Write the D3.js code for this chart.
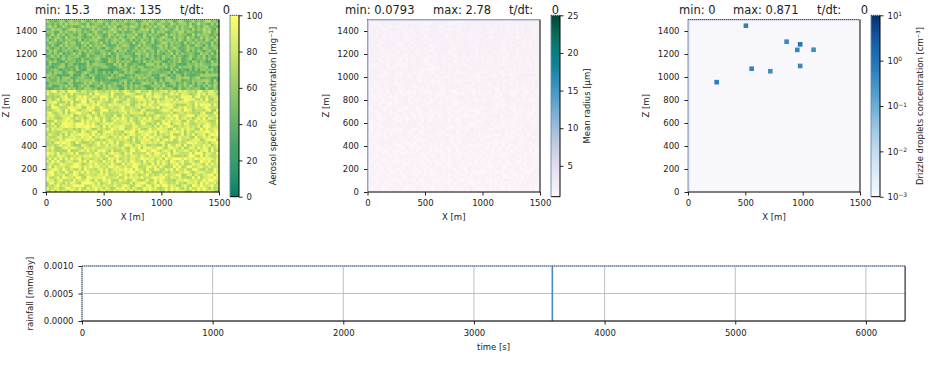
<!DOCTYPE html>
<html lang="en">
<head>
<meta charset="utf-8">
<title>Aerosol / radius / drizzle snapshot</title>
<script src="https://cdn.jsdelivr.net/npm/d3@7"></script>
<style>
  body { margin: 0; background: #fff; }
  svg text { font-family: "DejaVu Sans", sans-serif; fill: #222; }
</style>
</head>
<body>
<script>
// ---- data ----
var domainX = [0, 1500], domainZ = [0, 1500];
var nCells = 64;

// layer means, 100 m layers from the ground up
var aerosolLayers = [83, 84, 83, 83, 82, 82, 81, 81, 80, 50, 47, 49, 51, 53, 55];   // mg-1
var radiusLayers  = [1.6, 1.6, 1.6, 1.6, 1.7, 1.7, 1.7, 1.7, 1.7, 1.8, 1.8, 1.8, 1.9, 1.9, 1.9]; // um

// cell to cell scatter, one digit per cell (rows from the ground up)
var scatter = [
"5281736409458172639058142736491805728193460192837564019283746510",
"8136502794617208359461730285946173028594610372859406172385940612",
"1415926535897932384626433832795028841971693993751058209749445923",
"0781640628620899862803482534211706798214808651328230664709384460",
"9550582231725359408128481117450284102701938521105559644622948954",
"9303819644288109756659334461284756482337867831652712019091456485",
"6692346034861045432664821339360726024914127372458700660631558817",
"4881520920962829254091715364367892590360011330530548820466521384",
"1469519415116094330572703657595919530921861173819326117931051185",
"4807446237996274956735188575272489122793818301194912983367336244",
"0651285533896014739452638410826497615309172840569271038564192736",
"7183920465127380965218347096251873409265183740962581374029658137",
"2718281828459045235360287471352662497757247093699959574966967627",
"7240766303535475945713821785251664274274663919320030599218174135",
"9662904357290033429526059563073813232862794349076323382988075319",
"5251010190115738341879307021540891499348841675092447614606680822",
"6480016847741185374234544243710753907774499206955170276183860626",
"1331384583000752044933826560297606737113200709328709127443747047",
"2306969772093101416928368190255151086574637721112523897844250569",
"5363273897747268471040475346462080466842590694912933136770289891",
"5212671346743856916498512738497051629387456102983745610923847165",
"1732050807568877293527446341505872366942805253810380628055806979",
"4142135623730950488016887242096980785696718753769480731766797379",
"9074663144030568401625139648902384710293487560192384756019283476",
"2236067977499789696409173668731276235440618359611525724270897245",
"6180339887498948482045868343656381177203091798057628621354486227",
"3019346857201938456719203845671920385674102938456710923846751029",
"8462015793172604839517206483951720648391752064839157260483917526",
"5772156649015328606065120900824024310421593359399235988057672348",
"6931471805599453094172321214581765680755001343602552541206800094",
"3025850929940456840179914546843642076011014886287729760333279009",
"1098612288668109691395245236922525704647490557822749451734694333",
"6283185307179586476925286766559005768394338798750211641949889184",
"4669201609102990671853203820466201617258185577475768632745651343",
"2502907875095892822283902873218215786381271376727149977336192056",
"1202056903159594285399738161511449990764986292340498881792271555",
"8314462618153240809745619302187650243981765023948176502394817650",
"7389056098930650227230427460575007813180315570551847324087127822",
"2025372495815298746029387561092835476102938457610923845761092384",
"4810274937205839105728394610572839461027583940162738495061728394",
"0656643086021394946395224737190702179860943702770539217176293176",
"7523846748184676694051320005681271452635608277857713427577896091",
"7363717872146844090122495343014654958537105079227968925892354201",
"9956112129021960864034418159813629774771309960518707211349999998",
"3729780499510597317328160963185950244594553469083026425223082533",
"4468503526193118817101000313783875288658753320838142061717766914",
"7303598253490428755468731159562863882353787593751957781857780532",
"1712268066130019278766111959092164201989380952572010654858632788",
"3958201746613849027530186294758302619473885106274913508627401936",
"7216049385520731648920175384062917735048261930574812690354827016",
"0493817265584029136748205193677402815936042857193620485173906248",
"6627390415839027461158390274613208845927163054918273364019572806",
"1849205736027481953376204918570362849157093628417503916284057319",
"9305716284491627053820841697355028174962038571496023857140962385",
"5172093846620481937559302174886013927450268391745503821964071853",
"2864105937702958146390417628553190468237015982746309158274630915",
"8039261574318052769402715863941705283619048257361940852736194085",
"4715830926657203184950372618406691528307415962083751946028374619",
"0392847156218406937540196285736649018273540192863755019284763051",
"7560193842837164059218475930612283746509185720364981754032869147",
"2184750369956130482741059638271640385927116483059274408163957208",
"6937028415103849576226384910573895160472836904518273395061784240",
"3506182947784219036550917384620438175926087341952667180493520817",
"9241376058362950471883405716292671038495415827603973048162599361"
];

// drizzle cells: position [m] and concentration [cm-3]
var drizzleX    = [505, 860, 978, 953, 1095, 555, 718, 978, 250];
var drizzleZ    = [1446, 1307, 1284, 1236, 1237, 1072, 1050, 1096, 955];
var drizzleConc = [0.6, 0.45, 0.871, 0.5, 0.4, 0.55, 0.35, 0.5, 0.65];

var xTicks = [0, 500, 1000, 1500];
var zTicks = [0, 200, 400, 600, 800, 1000, 1200, 1400];
var aerosolTicks = [0, 20, 40, 60, 80, 100];
var radiusTicks = [5, 10, 15, 20, 25];
var drizzleTicks = [1e-3, 1e-2, 1e-1, 1, 10];

var titleMin = ["15.3", "0.0793", "0"];
var titleMax = ["135", "2.78", "0.871"];
var titleStep = "0";

var timeTicks = [0, 1000, 2000, 3000, 4000, 5000, 6000];
var rainTicks = [0, 0.0005, 0.001];
var timeMax = 6300, rainMax = 0.001;
var markTime = 3600;

// ---- layout ----
var W = 950, H = 374;
var plotTop = 19.5, plotBottom = 192;
var cbTop = 15.3, cbBottom = 196.7;
var panels = [
  {x0: 46,    x1: 219, cb: 230,   ylab: 6,   cblab: 273, tmin: 35,  tmax: 107, tdt: 180, tstep: 230},
  {x0: 367.5, x1: 540, cb: 551,   ylab: 326, cblab: 587, tmin: 345, tmax: 433, tdt: 509, tstep: 559},
  {x0: 688,   x1: 860, cb: 871,   ylab: 646, cblab: 920, tmin: 679, tmax: 733, tdt: 817, tstep: 868}
];
var cbWidth = 9;
var fs = 8.5;

var svg = d3.select("body").append("svg").attr("width", W).attr("height", H)
  .style("background", "#fff");

var summer = d3.interpolateRgb("rgb(0,128,102)", "rgb(255,255,102)");
var aerosolColor = d3.scaleSequential(summer).domain([0, 100]).clamp(true);
var radiusColor = d3.scaleSequential(d3.interpolatePuBuGn).domain([0.9, 25]).clamp(true);
var drizzleLog = d3.scaleLog().domain([1e-3, 10]).range([0, 1]).clamp(true);
function drizzleColor(v) { return v <= 1e-3 ? "#f8f7fb" : d3.interpolateBlues(drizzleLog(v)); }

var dd = (domainX[1] - domainX[0]) / nCells;
function layerOf(r) { return Math.min(14, Math.floor((r + 0.5) * dd / 100)); }
function digit(r, c) { var ch = scatter[r].charAt(c); return ch === "" ? 4.5 : +ch; }

function spines(g, x0, x1, y0, y1) {
  g.append("line").attr("x1", x0).attr("x2", x1).attr("y1", y1).attr("y2", y1).attr("stroke", "#000");
  g.append("line").attr("x1", x1).attr("x2", x1).attr("y1", y0).attr("y2", y1).attr("stroke", "#000");
  [["#3a4f77", 0], ["#8fb3de", 1]].forEach(function(s) {
    g.append("line").attr("x1", x0).attr("x2", x1).attr("y1", y0).attr("y2", y0)
      .attr("stroke", s[0]).attr("stroke-dasharray", "1,1").attr("stroke-dashoffset", s[1]);
    g.append("line").attr("x1", x0).attr("x2", x0).attr("y1", y0).attr("y2", y1)
      .attr("stroke", s[0]).attr("stroke-dasharray", "1,1").attr("stroke-dashoffset", s[1]);
  });
}

function styleAxis(a) {
  a.select(".domain").remove();
  a.selectAll(".tick line").attr("stroke", "#222");
  a.selectAll(".tick text").attr("font-size", fs).attr("font-family", "DejaVu Sans").attr("fill", "#222");
}

function colorbar(g, p, pos, color, ticks, fmt, label) {
  var n = 180, h = (cbBottom - cbTop) / n;
  var slices = d3.range(n).map(function(i) { return cbBottom - (i + 0.5) * h; });
  g.selectAll("rect.cb").data(slices).enter().append("rect")
    .attr("x", p.cb).attr("width", cbWidth)
    .attr("y", function(y) { return y - h / 2 - 0.3; }).attr("height", h + 0.6)
    .attr("fill", function(y) { return color(pos.invert(y)); });
  spines(g, p.cb, p.cb + cbWidth, cbTop, cbBottom);
  var ax = g.append("g").attr("transform", "translate(" + (p.cb + cbWidth) + ",0)")
    .call(d3.axisRight(pos).tickValues(ticks).tickSize(3.5).tickPadding(4).tickFormat(fmt));
  styleAxis(ax);
  g.append("text").attr("transform", "translate(" + p.cblab + "," + ((cbTop + cbBottom) / 2) + ") rotate(-90)")
    .attr("text-anchor", "middle").attr("dy", "0.35em").attr("font-size", fs).text(label);
  return ax;
}

function frame(g, p, k) {
  var x = d3.scaleLinear().domain(domainX).range([p.x0, p.x1]);
  var z = d3.scaleLinear().domain(domainZ).range([plotBottom, plotTop]);
  g.append("g").attr("transform", "translate(0," + plotBottom + ")")
    .call(d3.axisBottom(x).tickValues(xTicks).tickSize(3.5).tickPadding(4).tickFormat(d3.format("d")))
    .call(styleAxis);
  g.append("g").attr("transform", "translate(" + p.x0 + ",0)")
    .call(d3.axisLeft(z).tickValues(zTicks).tickSize(3.5).tickPadding(5).tickFormat(d3.format("d")))
    .call(styleAxis);
  g.append("text").attr("x", (p.x0 + p.x1) / 2).attr("y", 220).attr("text-anchor", "middle")
    .attr("font-size", fs).text("X [m]");
  g.append("text").attr("transform", "translate(" + p.ylab + "," + ((plotTop + plotBottom) / 2) + ") rotate(-90)")
    .attr("text-anchor", "middle").attr("dy", "0.35em").attr("font-size", fs).text("Z [m]");
  var tfs = 11.5;
  g.append("text").attr("x", p.tmin).attr("y", 13.5).attr("font-size", tfs).text("min: " + titleMin[k]);
  g.append("text").attr("x", p.tmax).attr("y", 13.5).attr("font-size", tfs).text("max: " + titleMax[k]);
  g.append("text").attr("x", p.tdt).attr("y", 13.5).attr("font-size", tfs).text("t/dt:");
  g.append("text").attr("x", p.tstep).attr("y", 13.5).attr("font-size", tfs).attr("text-anchor", "end").text(titleStep);
  return {x: x, z: z};
}

function cellGrid(valueAt) {
  var cells = [];
  scatter.forEach(function(row, r) {
    for (var c = 0; c < nCells; c++) cells.push({r: r, c: c, v: valueAt(r, c)});
  });
  return cells;
}

function drawCells(g, s, cells, color) {
  g.selectAll("rect.cell").data(cells).enter().append("rect")
    .attr("x", function(d) { return s.x(d.c * dd); })
    .attr("y", function(d) { return s.z((d.r + 1) * dd); })
    .attr("width", s.x(dd) - s.x(0) + 0.4)
    .attr("height", s.z(0) - s.z(dd) + 0.4)
    .attr("fill", function(d) { return color(d.v); });
}

function edgeStrips(g, p, col) {
  g.append("rect").attr("x", p.x0).attr("y", plotTop).attr("width", p.x1 - p.x0).attr("height", 1.5).attr("fill", col);
  g.append("rect").attr("x", p.x0).attr("y", plotTop).attr("width", 1.5).attr("height", plotBottom - plotTop).attr("fill", col);
}

// ---- panel 1: aerosol ----
var g1 = svg.append("g");
var p = panels[0];
var s1 = {x: d3.scaleLinear().domain(domainX).range([p.x0, p.x1]), z: d3.scaleLinear().domain(domainZ).range([plotBottom, plotTop])};
drawCells(g1, s1, cellGrid(function(r, c) { return aerosolLayers[layerOf(r)] + (digit(r, c) - 4.5) * 3.8; }), aerosolColor);
spines(g1, p.x0, p.x1, plotTop, plotBottom);
frame(g1, p, 0);
colorbar(g1, p, d3.scaleLinear().domain([0, 100]).range([cbBottom, cbTop]), aerosolColor, aerosolTicks,
  d3.format("d"), "Aerosol specific concentration [mg\u207B\u00B9]");

// ---- panel 2: mean radius ----
var g2 = svg.append("g");
p = panels[1];
var s2 = {x: d3.scaleLinear().domain(domainX).range([p.x0, p.x1]), z: d3.scaleLinear().domain(domainZ).range([plotBottom, plotTop])};
drawCells(g2, s2, cellGrid(function(r, c) { return radiusLayers[layerOf(r)] + (digit(r, c) - 4.5) * 0.1; }), radiusColor);
edgeStrips(g2, p, "#cdcde3");
spines(g2, p.x0, p.x1, plotTop, plotBottom);
frame(g2, p, 1);
colorbar(g2, p, d3.scaleLinear().domain([0.9, 25]).range([cbBottom, cbTop]), radiusColor, radiusTicks,
  d3.format("d"), "Mean radius [\u03BCm]");

// ---- panel 3: drizzle ----
var g3 = svg.append("g");
p = panels[2];
var s3 = {x: d3.scaleLinear().domain(domainX).range([p.x0, p.x1]), z: d3.scaleLinear().domain(domainZ).range([plotBottom, plotTop])};
g3.append("rect").attr("x", p.x0).attr("y", plotTop).attr("width", p.x1 - p.x0).attr("height", plotBottom - plotTop)
  .attr("fill", drizzleColor(0));
var drizzle = drizzleX.map(function(x, i) { return {x: x, z: drizzleZ[i], v: drizzleConc[i]}; });
var half = 20;
g3.selectAll("rect.drop").data(drizzle).enter().append("rect")
  .attr("x", function(d) { return s3.x(d.x - half); })
  .attr("y", function(d) { return s3.z(d.z + half); })
  .attr("width", s3.x(2 * half) - s3.x(0))
  .attr("height", s3.z(0) - s3.z(2 * half))
  .attr("fill", function(d) { return drizzleColor(d.v); });
edgeStrips(g3, p, "#dcd8ec");
spines(g3, p.x0, p.x1, plotTop, plotBottom);
frame(g3, p, 2);
var logPos = d3.scaleLog().domain([1e-3, 10]).range([cbBottom, cbTop]);
var ax3 = colorbar(g3, p, logPos, drizzleColor, drizzleTicks, function() { return ""; },
  "Drizzle droplets concentration [cm\u207B\u00B3]");
ax3.selectAll(".tick text").each(function(d) {
  var t = d3.select(this), e = Math.round(Math.log10(d));
  t.text("10");
  t.append("tspan").attr("dy", "-0.45em").attr("font-size", 6).text(e < 0 ? "\u2212" + (-e) : String(e));
});

// ---- bottom panel: rainfall ----
var bx0 = 82, by0 = 266, by1 = 321;
var tx = d3.scaleLinear().domain([0, timeMax]).range([bx0, bx0 + timeMax * 0.13065]);
var ry = d3.scaleLinear().domain([0, rainMax]).range([by1, by0]);
var gb = svg.append("g");
gb.selectAll("line.vgrid").data(timeTicks).enter().append("line")
  .attr("x1", tx).attr("x2", tx).attr("y1", by0).attr("y2", by1).attr("stroke", "#b0b0b0").attr("stroke-width", 0.8);
gb.selectAll("line.hgrid").data(rainTicks).enter().append("line")
  .attr("x1", bx0).attr("x2", tx(timeMax)).attr("y1", ry).attr("y2", ry).attr("stroke", "#b0b0b0").attr("stroke-width", 0.8);
gb.append("line").attr("x1", tx(markTime)).attr("x2", tx(markTime)).attr("y1", by0).attr("y2", by1)
  .attr("stroke", "#3f8cc6").attr("stroke-width", 1.6);
spines(gb, bx0, tx(timeMax), by0, by1);
gb.append("g").attr("transform", "translate(0," + by1 + ")")
  .call(d3.axisBottom(tx).tickValues(timeTicks).tickSize(3.5).tickPadding(5).tickFormat(d3.format("d")))
  .call(styleAxis);
gb.append("g").attr("transform", "translate(" + bx0 + ",0)")
  .call(d3.axisLeft(ry).tickValues(rainTicks).tickSize(3.5).tickPadding(5).tickFormat(d3.format(".4f")))
  .call(styleAxis);
gb.append("text").attr("x", (bx0 + tx(timeMax)) / 2).attr("y", 350).attr("text-anchor", "middle")
  .attr("font-size", fs).text("time [s]");
gb.append("text").attr("transform", "translate(30," + ((by0 + by1) / 2) + ") rotate(-90)")
  .attr("text-anchor", "middle").attr("dy", "0.35em").attr("font-size", fs).text("rainfall [mm/day]");
</script>
</body>
</html>
